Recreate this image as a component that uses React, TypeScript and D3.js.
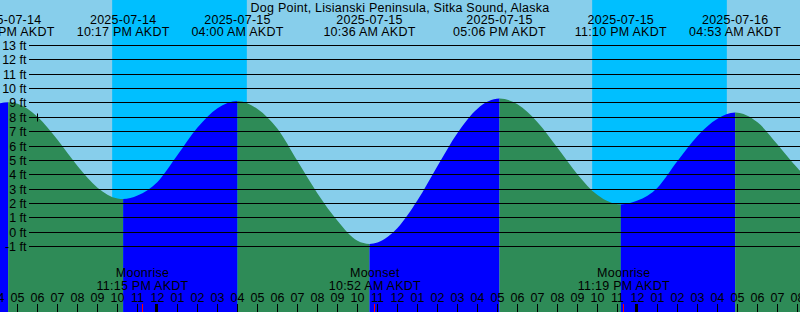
import React from "react";
import * as d3 from "d3";

const W = 800;
const H = 312;

const title = "Dog Point, Lisianski Peninsula, Sitka Sound, Alaska";

// hourly heights (ft), starting 2025-07-14 15:00
const hourlyStart = "2025-07-14 15:00";
const hourlyHeights = [
  8.4, 8.95, 8.94, 8.03, 6.43, 4.61, 3.1, 2.34, 2.55, 3.5, 5.37, 7.28, 8.63, 9.14,
  8.58, 7.2, 4.95, 2.7, 0.8, -0.6, -0.72, 0.29, 2.22, 4.61, 6.91, 8.6, 9.29, 8.91,
  7.66, 5.87, 4.02, 2.58, 1.94, 2.2, 3.1, 4.95, 6.7, 7.9, 8.31, 7.65, 6.11, 4.46, 3.0,
];

// high / low tide events
const eventTimes = [
  "2025-07-14 16:32",
  "2025-07-14 22:17",
  "2025-07-15 04:00",
  "2025-07-15 10:36",
  "2025-07-15 17:06",
  "2025-07-15 23:10",
  "2025-07-16 04:53",
];
const eventHeights = [9.04, 2.3, 9.14, -0.82, 9.3, 1.93, 8.33];

// sun
const sunsetTimes = ["2025-07-14 21:44", "2025-07-15 21:44"];
const sunriseTimes = ["2025-07-15 04:28", "2025-07-16 04:28"];

// moon
const moonTimes = ["2025-07-14 23:15", "2025-07-15 10:52", "2025-07-15 23:19"];
const moonEvents = ["Moonrise", "Moonset", "Moonrise"];

// current-time mark
const markTime = "2025-07-14 18:00";
const markHeight = 8.0;

const yTicks = d3.range(-1, 14);
const axisStart = "2025-07-14 16:00";
const axisEnd = "2025-07-16 08:00";

const parse = d3.timeParse("%Y-%m-%d %H:%M")!;
const fmtDate = d3.timeFormat("%Y-%m-%d");
const fmtTime = d3.timeFormat("%I:%M %p AKDT");
const fmtHour = d3.timeFormat("%I");

const SKY = "#87CEEB";
const NIGHT = "#00BFFF";
const FLOOD = "#0000FF";
const EBB = "#2E8B57";
const FONT = "'Liberation Sans', Arial, Helvetica, sans-serif";
const FS = 12.5;
const LS = 0.25;

export default function App() {
  const x = d3.scaleTime().domain([parse(axisStart)!, parse(axisEnd)!]).range([-2.5, 797.5]);
  const y = d3.scaleLinear().domain([-1, 13]).range([246.5, 45.5]);
  const crisp = (v: number) => Math.round(v - 0.5) + 0.5;

  const events = eventTimes.map((t, i) => ({ date: parse(t)!, h: eventHeights[i] }));
  const start = parse(hourlyStart)!;
  const hourly = hourlyHeights.map((h, i) => ({ date: d3.timeHour.offset(start, i), h }));
  const pts = [
    ...events,
    ...hourly.filter(
      (p) => !events.some((e) => Math.abs(+e.date - +p.date) < 15 * 60 * 1000)
    ),
  ].sort((a, b) => +a.date - +b.date);

  const area = d3
    .area<{ date: Date; h: number }>()
    .x((d) => x(d.date))
    .y0(H)
    .y1((d) => y(d.h))
    .curve(d3.curveMonotoneX);

  // bands between extremes: rising = flood (blue), falling = ebb (green)
  const bounds = [-50, ...events.map((e) => x(e.date)), W + 50];
  const bands = bounds.slice(0, -1).map((b0, i) => {
    let rising: boolean;
    if (i === 0) rising = events[0].h > hourly[0].h;
    else rising = i < events.length ? events[i].h > events[i - 1].h : false;
    return { x0: b0, x1: bounds[i + 1], color: rising ? FLOOD : EBB };
  });

  const hours = d3.timeHour.range(parse(axisStart)!, d3.timeHour.offset(parse(axisEnd)!, 1));

  return (
    <svg
      width={W}
      height={H}
      style={{ position: "fixed", left: 0, top: 0, display: "block" }}
      fontFamily={FONT}
      fontSize={FS}
    >
      <defs>
        <clipPath id="tideClip">
          <path d={area(pts) || ""} />
        </clipPath>
      </defs>
      <rect x={0} y={0} width={W} height={H} fill={SKY} />
      {sunsetTimes.map((s, i) => {
        const x0 = x(parse(s)!);
        const x1 = x(parse(sunriseTimes[i])!);
        return <rect key={s} x={x0} y={0} width={x1 - x0} height={H} fill={NIGHT} />;
      })}
      <g clipPath="url(#tideClip)">
        {bands.map((b, i) => (
          <rect key={i} x={b.x0} y={0} width={b.x1 - b.x0} height={H} fill={b.color} />
        ))}
      </g>

      {yTicks.map((t) => (
        <line
          key={t}
          x1={29}
          x2={W}
          y1={crisp(y(t))}
          y2={crisp(y(t))}
          stroke="#000"
          strokeWidth={1}
        />
      ))}
      {yTicks.map((t) => (
        <text key={"l" + t} x={26.5} y={crisp(y(t)) + 4.5} textAnchor="end" fill="#000">
          {`${t} ft`}
        </text>
      ))}

      <g letterSpacing={LS}>
        <text x={W / 2} y={11.5} textAnchor="middle" fill="#000">
          {title}
        </text>
        {events.map((e, i) => (
          <g key={"e" + i}>
            <text x={x(e.date)} y={23.5} textAnchor="middle" fill="#000">
              {fmtDate(e.date)}
            </text>
            <text x={x(e.date)} y={36} textAnchor="middle" fill="#000">
              {fmtTime(e.date)}
            </text>
          </g>
        ))}

        {moonTimes.map((m, i) => {
          const d = parse(m)!;
          const mx = x(d);
          return (
            <g key={"m" + i}>
              <text x={mx} y={277} textAnchor="middle" fill="#000">
                {moonEvents[i]}
              </text>
              <text x={mx} y={289.5} textAnchor="middle" fill="#000">
                {fmtTime(d)}
              </text>
            </g>
          );
        })}
      </g>

      {hours.map((h, i) => {
        const hx = x(h);
        const midnight = h.getHours() === 0;
        return (
          <g key={"h" + i}>
            <text x={hx} y={302} textAnchor="middle" fill="#000">
              {fmtHour(h)}
            </text>
            {midnight ? (
              <rect x={hx - 2.5} y={304} width={3} height={8} fill="#000" />
            ) : (
              <line x1={hx} x2={hx} y1={304} y2={312} stroke="#000" strokeWidth={1} />
            )}
          </g>
        );
      })}
      {moonTimes.map((m, i) => {
        const mx = Math.round(x(parse(m)!) - 0.5) + 0.5;
        return <line key={"mt" + i} x1={mx} x2={mx} y1={304} y2={312} stroke="#FF0000" strokeWidth={1} />;
      })}

      {(() => {
        const px = crisp(x(parse(markTime)!));
        const py = crisp(y(markHeight));
        return (
          <g stroke="#000" strokeWidth={1}>
            <line x1={px - 4} x2={px + 4} y1={py} y2={py} />
            <line x1={px} x2={px} y1={py - 4} y2={py + 4} />
          </g>
        );
      })()}
    </svg>
  );
}
